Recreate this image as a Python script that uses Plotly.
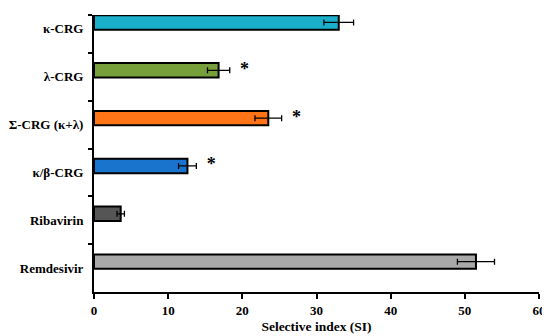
import plotly.graph_objects as go

categories = ["Remdesivir", "Ribavirin", "κ/β-CRG", "Σ-CRG (κ+λ)", "λ-CRG", "κ-CRG"]
values = [51.5, 3.6, 12.6, 23.5, 16.8, 33.0]
errors = [2.5, 0.5, 1.2, 1.8, 1.5, 2.0]
colors = ["#A9A9A9", "#555555", "#1874CD", "#FF7417", "#77A03A", "#1AAFCB"]
significant = [False, False, True, True, True, False]
x_ticks = [0, 10, 20, 30, 40, 50, 60]

pos = list(range(len(categories)))

fig = go.Figure()
fig.add_trace(go.Bar(
    x=values, y=pos, orientation="h", width=0.3,
    marker=dict(color=colors, line=dict(color="black", width=2)),
    error_x=dict(type="data", array=errors, visible=True, color="black",
                 thickness=1.3, width=3),
    showlegend=False,
))

star_x = [v + e + 2.0 for v, e, s in zip(values, errors, significant) if s]
star_y = [p for p, s in zip(pos, significant) if s]
fig.add_trace(go.Scatter(
    x=star_x, y=star_y, mode="text", text=["<b>*</b>"] * len(star_x),
    textposition="middle center",
    textfont=dict(family="Liberation Serif", size=18, color="black"),
    showlegend=False,
))

# page body has an 8px margin: figure sized so it ends exactly at the window edge
fig.update_layout(
    width=542, height=328,
    margin=dict(l=85.5, r=10.5, t=7, b=44),
    plot_bgcolor="white", paper_bgcolor="white",
    font=dict(family="Liberation Serif", color="black"),
    bargap=0.7,
)
fig.update_xaxes(
    range=[0, 60], tickvals=x_ticks, ticktext=[f"<b>{t}</b>" for t in x_ticks],
    showgrid=False, zeroline=False, automargin=False,
    showline=True, linecolor="black", linewidth=2,
    ticks="outside", ticklen=5, tickwidth=2, tickcolor="black",
    tickfont=dict(family="Liberation Serif", size=13, color="black"),
    title=dict(text="<b>Selective index (SI)</b>", standoff=5,
               font=dict(family="Liberation Serif", size=13.5, color="black")),
)
fig.update_yaxes(
    range=[-0.635, 5.156], automargin=False,
    tickvals=[p - 0.135 for p in pos], ticktext=[f"<b>{c}</b>" for c in categories],
    ticks="outside", ticklen=0, tickcolor="rgba(0,0,0,0)",
    ticklabelstandoff=6,
    minor=dict(tickvals=[p + 0.365 for p in pos[:-1]] + [5.156], ticks="outside",
               ticklen=4, tickwidth=2, tickcolor="black"),
    showgrid=False, zeroline=False,
    showline=True, linecolor="black", linewidth=2,
    tickfont=dict(family="Liberation Serif", size=13, color="black"),
)

fig.write_html("out.html")
